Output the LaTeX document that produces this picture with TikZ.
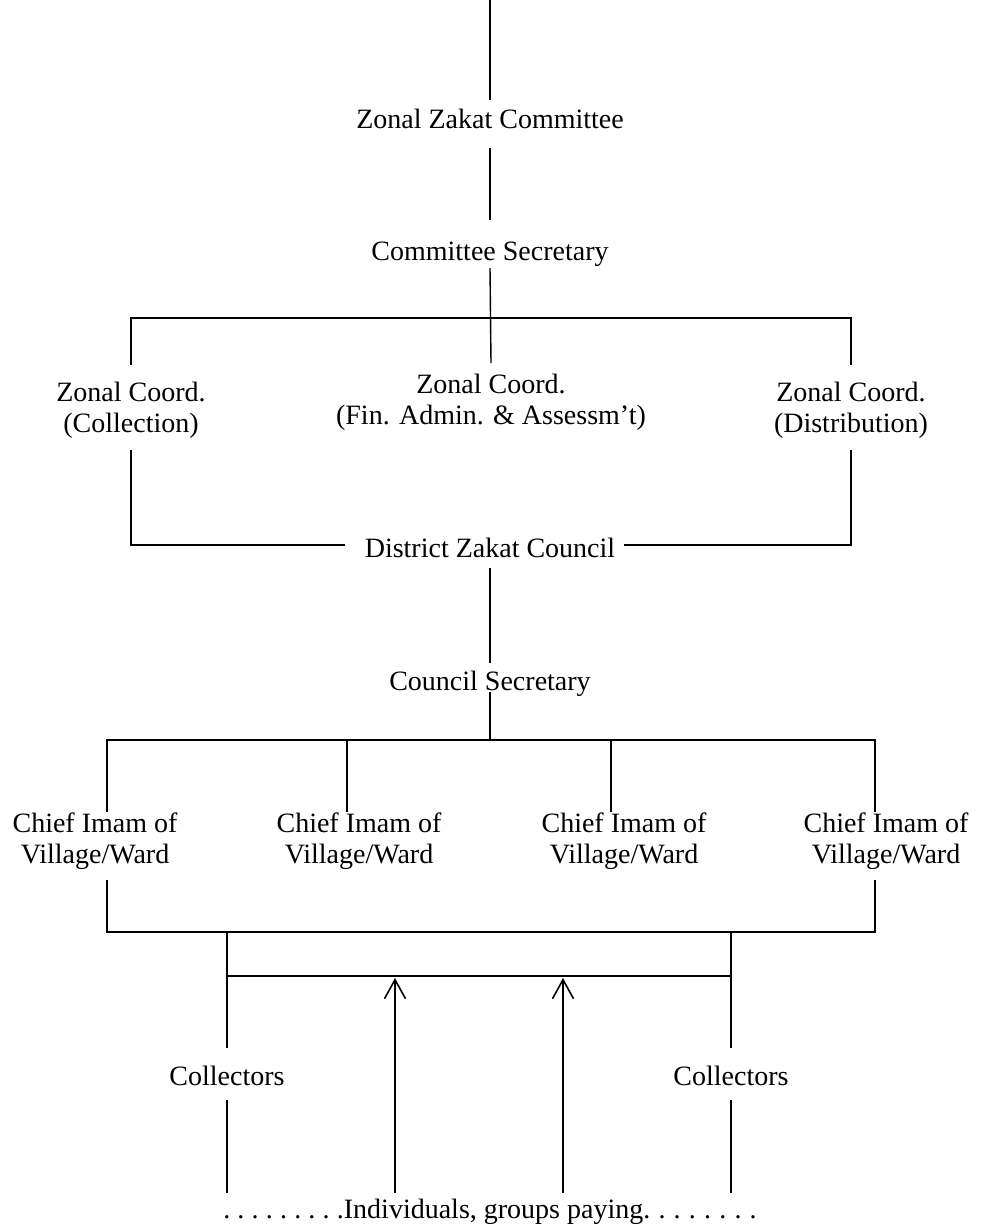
\documentclass[tikz,border=0pt]{standalone}
\usepackage{fontspec}
\setmainfont{Liberation Serif}
\usetikzlibrary{calc,arrows.meta}
\newcommand{\ldot}{.\hspace{7.2pt}}
\newcommand{\rdot}{\hspace{8.2pt}.}
\begin{document}
\begin{tikzpicture}[x=1pt,y=-1pt,
  lbl/.style={font=\fontsize{28}{31}\selectfont, inner sep=0pt, align=center},
  ln/.style={line width=1.4pt},
  arr/.style={line width=1.6pt, -{Straight Barb[length=19pt,width=21pt]}}]
\useasboundingbox (0,0) rectangle (980,1231);

% text nodes
\node[lbl, anchor=base] (zzc) at (490,128) {Zonal Zakat Committee};
\node[lbl, anchor=base] (cs) at (490,260) {Committee Secretary};
\node[lbl] (zc1) at (131,410) {Zonal Coord.\\(Collection)};
\node[lbl] (zc2) at (491,402) {Zonal Coord.\\(Fin. Admin. \& Assessm’t)};
\node[lbl] (zc3) at (851,410) {Zonal Coord.\\(Distribution)};
\node[lbl, anchor=base] (dzc) at (490,557) {District Zakat Council};
\node[lbl, anchor=base] (csec) at (490,690) {Council Secretary};
\node[lbl] (ci1) at (95,841) {Chief Imam of\\Village/Ward};
\node[lbl] (ci2) at (359,841) {Chief Imam of\\Village/Ward};
\node[lbl] (ci3) at (624,841) {Chief Imam of\\Village/Ward};
\node[lbl] (ci4) at (886,841) {Chief Imam of\\Village/Ward};
\node[lbl, anchor=base] (col1) at (227,1085) {Collectors};
\node[lbl, anchor=base] (col2) at (731,1085) {Collectors};
\node[lbl, anchor=base] (ind) at (490,1218) {\ldot\ldot\ldot\ldot\ldot\ldot\ldot\ldot.Individuals, groups paying.\rdot\rdot\rdot\rdot\rdot\rdot\rdot};

% helper coordinates
\coordinate (top) at (490,0);
\coordinate (bar1) at (490,318);
\coordinate (bar2) at (490,740);
\coordinate (bar3) at (490,932);
\coordinate (x1) at (107,0);
\coordinate (x2) at (347,0);
\coordinate (x3) at (611,0);
\coordinate (x4) at (875,0);
\coordinate (a1) at (395,978);
\coordinate (a2) at (563,978);

% connectors
\draw[ln] (top) -- ($(zzc.base)+(0,-28)$);
\draw[ln] ($(zzc.base)+(0,20)$) -- ($(cs.base)+(0,-40)$);
\draw[ln] ($(cs.base)+(0,8)$) -- ($(zc2.center)+(0,-39)$);
\draw[ln] ($(zc1.center)+(0,-45)$) |- (bar1) -| ($(zc3.center)+(0,-45)$);
\draw[ln] ($(zc1.center)+(0,40)$) |- ($(dzc.base west)+(-20,-12)$);
\draw[ln] ($(zc3.center)+(0,40)$) |- ($(dzc.base east)+(9,-12)$);
\draw[ln] ($(dzc.base)+(0,11)$) -- ($(csec.base)+(0,-27)$);
\draw[ln] ($(csec.base)+(0,2)$) -- (bar2);
\draw[ln] ($(x1|-ci1.center)+(0,-29)$) |- (bar2) -| ($(x4|-ci4.center)+(0,-29)$);
\draw[ln] ($(x2|-ci2.center)+(0,-29)$) -- (x2|-bar2);
\draw[ln] ($(x3|-ci3.center)+(0,-29)$) -- (x3|-bar2);
\draw[ln] ($(x1|-ci1.center)+(0,39)$) |- (bar3) -| ($(x4|-ci4.center)+(0,39)$);
\draw[ln] (col1|-bar3) -- ($(col1.base)+(0,-37)$);
\draw[ln] (col2|-bar3) -- ($(col2.base)+(0,-37)$);
\draw[ln] ($(col1.base)+(0,-109)$) -- ($(col2.base)+(0,-109)$);
\draw[ln] ($(col1.base)+(0,15)$) -- ($(col1|-ind.base)+(0,-25)$);
\draw[ln] ($(col2.base)+(0,15)$) -- ($(col2|-ind.base)+(0,-25)$);
\draw[arr] ($(a1|-ind.base)+(0,-25)$) -- (a1);
\draw[arr] ($(a2|-ind.base)+(0,-25)$) -- (a2);
\end{tikzpicture}
\end{document}
